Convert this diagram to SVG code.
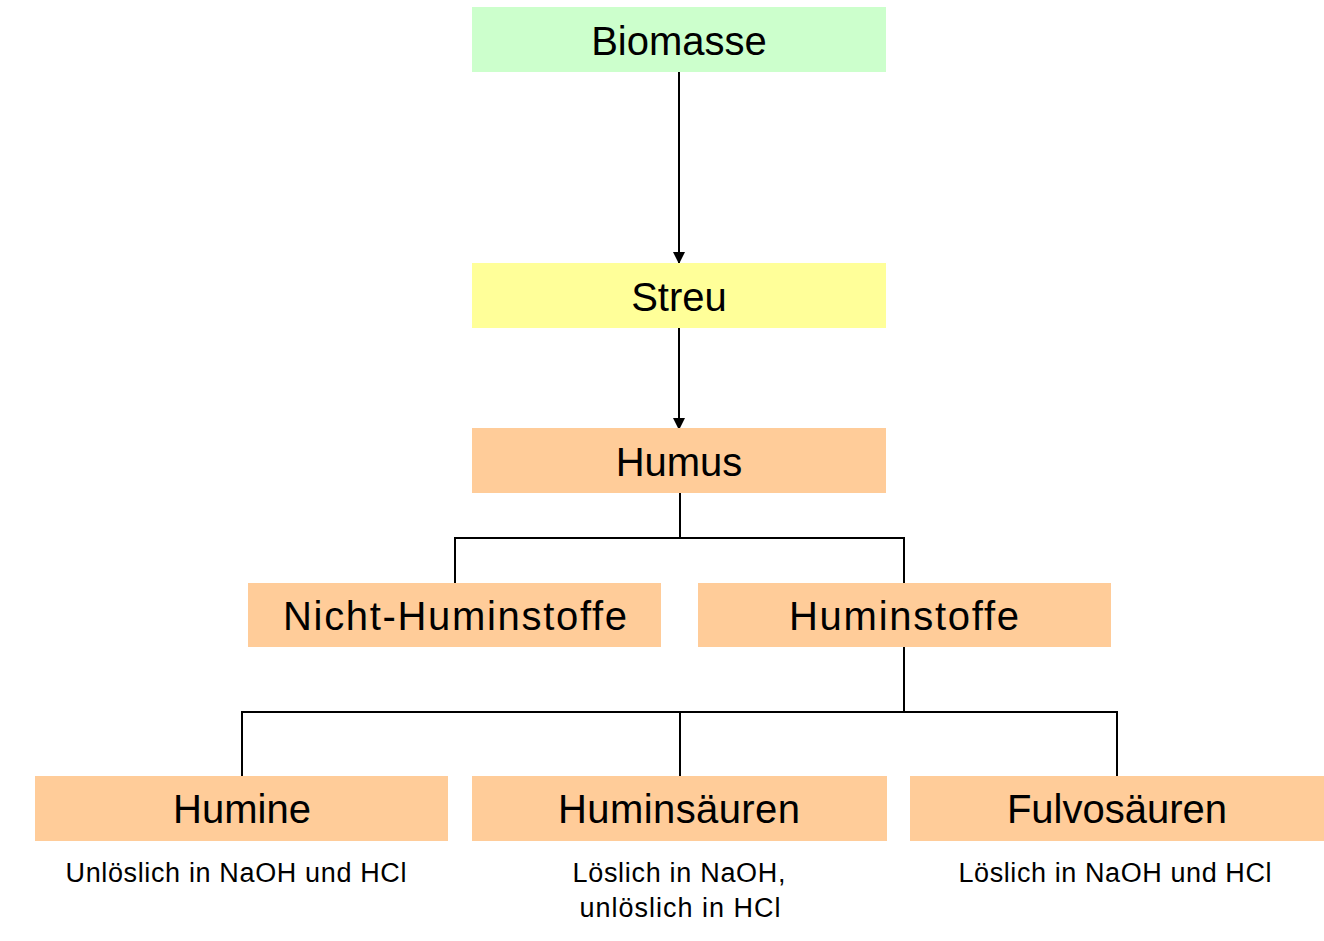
<svg xmlns="http://www.w3.org/2000/svg" width="1324" height="941" viewBox="0 0 1324 941">
<style>
.g{fill:#CCFFCC}.y{fill:#FFFF99}.o{fill:#FFCC99}
.t{font-family:"Liberation Sans",Arial,sans-serif;font-size:40px;fill:#000;text-anchor:middle}
.s{font-family:"Liberation Sans",Arial,sans-serif;font-size:27px;fill:#000;text-anchor:middle}
.c{fill:none;stroke:#000;stroke-width:2}
</style>
<defs>
<marker id="ah" markerWidth="12" markerHeight="12" refX="11" refY="6" orient="auto" markerUnits="userSpaceOnUse">
<path d="M0,0 L12,6 L0,12 Z" fill="#000"/>
</marker>
</defs>
<rect width="1324" height="941" fill="#fff"/>
<g id="connectors">
<line class="c" x1="679" y1="72" x2="679" y2="263" marker-end="url(#ah)"/>
<line class="c" x1="679" y1="328" x2="679" y2="429" marker-end="url(#ah)"/>
<polyline class="c" points="680,493 680,538"/>
<polyline class="c" points="455,583 455,538 904,538 904,583"/>
<polyline class="c" points="904,647 904,712"/>
<polyline class="c" points="242,776 242,712 904,712"/>
<polyline class="c" points="680,776 680,712 1117,712 1117,776"/>
</g>
<g id="biomasse"><rect class="g" x="472" y="7" width="414" height="65"/><text class="t" x="679" y="55">Biomasse</text></g>
<g id="streu"><rect class="y" x="472" y="263" width="414" height="65"/><text class="t" x="679" y="311">Streu</text></g>
<g id="humus"><rect class="o" x="472" y="428" width="414" height="65"/><text class="t" x="679" y="476">Humus</text></g>
<g id="nicht-huminstoffe"><rect class="o" x="248" y="583" width="413" height="64"/><text class="t" x="455" y="630" textLength="344" lengthAdjust="spacing">Nicht-Huminstoffe</text></g>
<g id="huminstoffe"><rect class="o" x="698" y="583" width="413" height="64"/><text class="t" x="904" y="630" textLength="230" lengthAdjust="spacing">Huminstoffe</text></g>
<g id="humine"><rect class="o" x="35" y="776" width="413" height="65"/><text class="t" x="242" y="823">Humine</text><text class="s" x="236" y="882" textLength="341" lengthAdjust="spacing">Unlöslich in NaOH und HCl</text></g>
<g id="huminsaeuren"><rect class="o" x="472" y="776" width="415" height="65"/><text class="t" x="679" y="823" textLength="242" lengthAdjust="spacing">Huminsäuren</text><text class="s" x="679" y="882" textLength="213" lengthAdjust="spacing">Löslich in NaOH,</text><text class="s" x="680" y="917" textLength="201" lengthAdjust="spacing">unlöslich in HCl</text></g>
<g id="fulvosaeuren"><rect class="o" x="910" y="776" width="414" height="65"/><text class="t" x="1117" y="823">Fulvosäuren</text><text class="s" x="1115" y="882" textLength="313" lengthAdjust="spacing">Löslich in NaOH und HCl</text></g>
</svg>
